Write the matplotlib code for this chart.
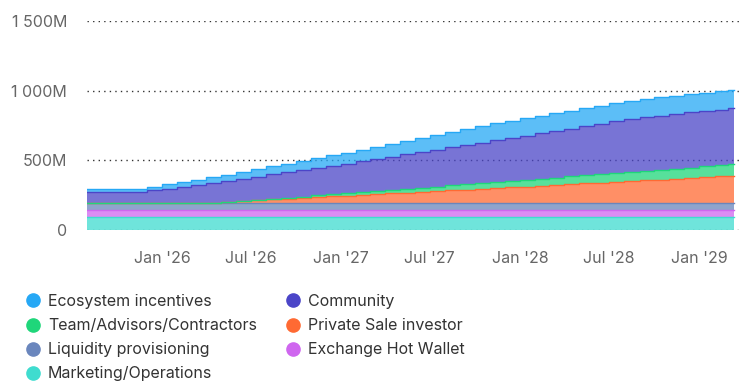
import matplotlib
matplotlib.use("Agg")
import matplotlib.pyplot as plt
import matplotlib.dates as mdates
from matplotlib.lines import Line2D
import pandas as pd
import numpy as np

plt.rcParams['font.family'] = ['Inter', 'DejaVu Sans']

# Monthly dates (Aug 2025 .. Mar 2029) plus final data date
months = list(pd.date_range('2025-08-01', '2029-03-01', freq='MS'))
end_date = pd.Timestamp('2029-03-12')

marketing = [90] * 44
hot_wallet = [50] * 44
liquidity = [50] * 44
private_sale = [0, 0, 0, 0, 0, 0, 0, 0,
                6, 11, 17, 22, 28, 33, 39, 44, 50, 55, 61, 66, 72, 77, 83, 88,
                94, 99, 105, 110, 116, 121, 127, 132, 138, 143, 149, 154, 160,
                165, 171, 176, 182, 187, 193, 198]
team = [0, 0, 0, 0, 0, 0, 0, 0, 0, 0, 0,
        3, 5, 8, 10, 13, 15, 18, 20, 23, 25, 28, 30, 33, 35, 38, 40, 43, 45,
        48, 50, 53, 55, 58, 60, 63, 65, 68, 70, 73, 75, 78, 80, 83]
community = [82, 82, 82, 82, 93, 106, 120, 134, 142, 152, 161, 167, 175, 183,
             190, 198, 206, 213, 221, 230, 238, 247, 256, 264, 274, 283, 292,
             301, 308, 316, 325, 334, 344, 353, 363, 372, 378, 384, 388, 393,
             397, 398, 400, 401]
ecosystem = [23, 23, 23, 23, 27, 31, 34, 37, 40, 44, 48, 53, 57, 61, 66, 70,
             74, 79, 83, 87, 92, 96, 100, 105, 109, 113, 118, 122, 125, 127,
             128, 129, 129, 130, 130, 131, 131, 131, 132, 132, 132, 133, 133, 133]

series = [
    ("Marketing/Operations", marketing, "#3fdccf"),
    ("Exchange Hot Wallet", hot_wallet, "#cf66ef"),
    ("Liquidity provisioning", liquidity, "#6a86bd"),
    ("Private Sale investor", private_sale, "#ff6a33"),
    ("Team/Advisors/Contractors", team, "#1fd67a"),
    ("Community", community, "#4b45c8"),
    ("Ecosystem incentives", ecosystem, "#26a8f5"),
]

legend_order = ["Ecosystem incentives", "Team/Advisors/Contractors",
                "Liquidity provisioning", "Marketing/Operations",
                "Community", "Private Sale investor", "Exchange Hot Wallet"]

y_ticks = [0, 500, 1000, 1500]
y_labels = ["0", "500M", "1 000M", "1 500M"]

FS = 11.5

fig = plt.figure(figsize=(7.5, 3.92), dpi=100)
ax = fig.add_axes([87/750, 1 - 229.8/392, (740-87)/750, (229.8-21)/392])

x = months + [end_date]
base = np.zeros(len(x))
colors = {}
for name, vals, col in series:
    v = np.array(vals + [vals[-1]], dtype=float)
    top = base + v
    ax.fill_between(x, base, top, step='post', color=col, alpha=0.75,
                    linewidth=0, zorder=2)
    if max(vals) > 0:
        ax.step(x, top, where='post', color=col, linewidth=1.0, zorder=3)
    colors[name] = col
    base = top

ax.set_ylim(0, 1500)
ax.set_xlim(pd.Timestamp('2025-08-01'), pd.Timestamp('2029-03-25'))
ax.set_yticks(y_ticks)
ax.set_yticklabels(y_labels)
ax.yaxis.grid(True, linestyle=(0, (1, 3)), color='#333333', linewidth=1.0, zorder=1)
ax.set_axisbelow(True)
ax.xaxis.set_major_locator(mdates.MonthLocator(bymonth=[1, 7]))
ax.xaxis.set_major_formatter(mdates.DateFormatter("%b '%y"))
ax.tick_params(axis='both', length=0, labelsize=FS, labelcolor='#666666')
ax.tick_params(axis='y', pad=14.4)
ax.tick_params(axis='x', pad=15.5)
for s in ax.spines.values():
    s.set_visible(False)

handles = [Line2D([0], [0], marker='o', linestyle='none', markersize=9.5,
                  markerfacecolor=colors[n], markeredgecolor=colors[n], label=n)
           for n in legend_order]
fig.legend(handles=handles, loc='upper left', bbox_to_anchor=(25/750, 1 - 294/392),
           ncol=2, frameon=False, fontsize=FS, labelcolor='#333333',
           handlelength=1.0, handletextpad=0.44, columnspacing=1.75,
           labelspacing=0.57, borderaxespad=0, borderpad=0)

fig.savefig('out.png', dpi=100)
